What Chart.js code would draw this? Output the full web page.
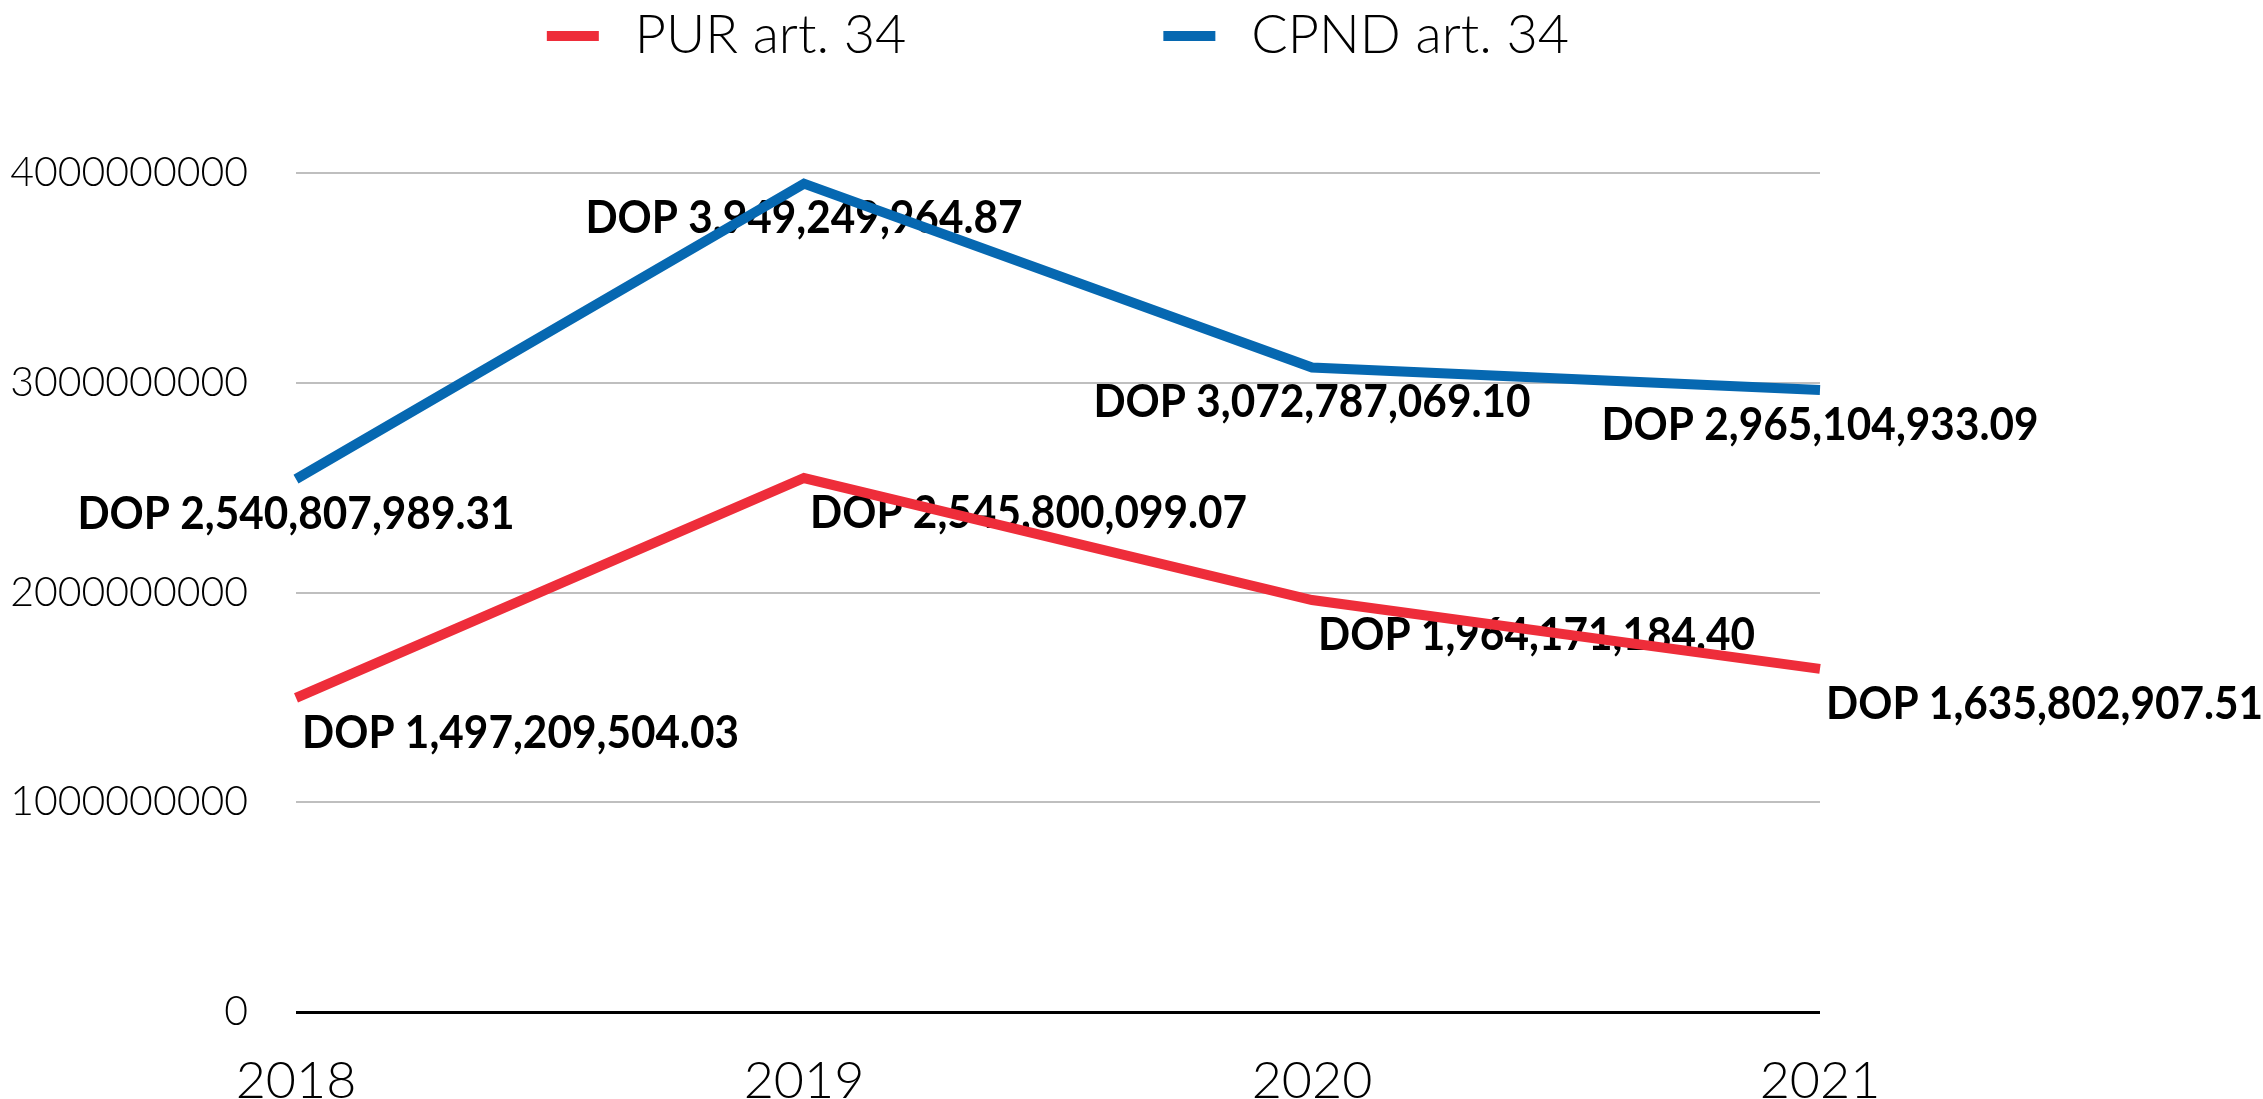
<!DOCTYPE html>
<html lang="en">
  <head>
    <meta charset="UTF-8" />
    <title>PUR / CPND art. 34</title>
    <style>
      html, body { margin: 0; padding: 0; background: #fff; }
      #chart-box { width: 2263px; height: 1099px; }
    </style>
  </head>
  <body>
    <div id="chart-box"><canvas id="myChart" width="2263" height="1099"></canvas></div>
    <script src="https://cdn.jsdelivr.net/npm/chart.js"></script>
    <script>
      const years = ['2018', '2019', '2020', '2021']
      const purValues = [1497209504.03, 2545800099.07, 1964171184.40, 1635802907.51]
      const cpndValues = [2540807989.31, 3949249964.87, 3072787069.10, 2965104933.09]
      const yTicks = [0, 1000000000, 2000000000, 3000000000, 4000000000]

      const fmtDop = (v) =>
        'DOP ' + v.toLocaleString('en-US', { minimumFractionDigits: 2, maximumFractionDigits: 2 })

      // value labels under each point, drawn before the lines so the lines cross over them
      const pointLabels = {
        id: 'pointLabels',
        beforeDatasetsDraw(chart) {
          const ctx = chart.ctx
          chart.data.datasets.forEach((ds, i) => {
            const meta = chart.getDatasetMeta(i)
            meta.data.forEach((pt, j) => {
              ctx.save()
              ctx.font = 'bold 46px Lato'
              ctx.fillStyle = '#000'
              ctx.textBaseline = 'middle'
              ctx.textAlign = ds.labelAlign
              ctx.translate(pt.x + ds.labelDx, pt.y + 35)
              ctx.scale(0.92, 1)
              ctx.fillText(fmtDop(ds.data[j]), 0, 0)
              ctx.restore()
            })
          })
        }
      }

      // legend on top, centred over the plot area
      const legendBar = {
        id: 'legendBar',
        afterDraw(chart) {
          const { ctx, chartArea } = chart
          ctx.save()
          ctx.font = '300 54px Lato'
          ctx.textBaseline = 'middle'
          const items = chart.data.datasets.map((ds) => ({
            label: ds.label,
            color: ds.borderColor,
            w: 52 + 36 + ctx.measureText(ds.label).width
          }))
          const gap = 257
          const total = items.reduce((s, it) => s + it.w, 0) + gap * (items.length - 1)
          let x = (chartArea.left + chartArea.right) / 2 - total / 2
          const y = 36
          items.forEach((it) => {
            ctx.fillStyle = it.color
            ctx.fillRect(x, y - 5, 52, 10)
            ctx.fillStyle = '#000'
            ctx.fillText(it.label, x + 88, y)
            x += it.w + gap
          })
          ctx.restore()
        }
      }

      const ctx = document.getElementById('myChart')
      const myChart = new Chart(ctx, {
        type: 'line',
        data: {
          labels: years,
          datasets: [
            {
              label: 'PUR art. 34',
              data: purValues,
              borderColor: '#EE2D3A',
              backgroundColor: '#EE2D3A',
              borderWidth: 10,
              pointRadius: 0,
              tension: 0,
              labelAlign: 'left',
              labelDx: 6
            },
            {
              label: 'CPND art. 34',
              data: cpndValues,
              borderColor: '#0668B1',
              backgroundColor: '#0668B1',
              borderWidth: 10,
              pointRadius: 0,
              tension: 0,
              labelAlign: 'center',
              labelDx: 0
            }
          ]
        },
        options: {
          responsive: false,
          animation: false,
          layout: { padding: { top: 173, right: 443, left: 0, bottom: 0 } },
          plugins: {
            legend: { display: false },
            tooltip: { enabled: false }
          },
          scales: {
            x: {
              grid: { display: false },
              border: { display: false },
              ticks: {
                color: '#000',
                font: { family: 'Lato', size: 52, weight: '300' },
                padding: 30,
                maxRotation: 0,
                autoSkip: false
              },
              afterFit: (scale) => { scale.height = 87 }
            },
            y: {
              min: 0,
              max: 4000000000,
              border: { display: false },
              grid: {
                drawTicks: false,
                color: (c) => (c.tick && c.tick.value === 0 ? '#000' : '#BFBFBF'),
                lineWidth: (c) => (c.tick && c.tick.value === 0 ? 3 : 2)
              },
              ticks: {
                color: '#000',
                font: { family: 'Lato', size: 41, weight: '300' },
                padding: 48,
                callback: (v) => String(v)
              },
              afterBuildTicks: (scale) => { scale.ticks = yTicks.map((v) => ({ value: v })) },
              afterFit: (scale) => { scale.width = 296 }
            }
          }
        },
        plugins: [pointLabels, legendBar]
      })
    </script>
  </body>
</html>
